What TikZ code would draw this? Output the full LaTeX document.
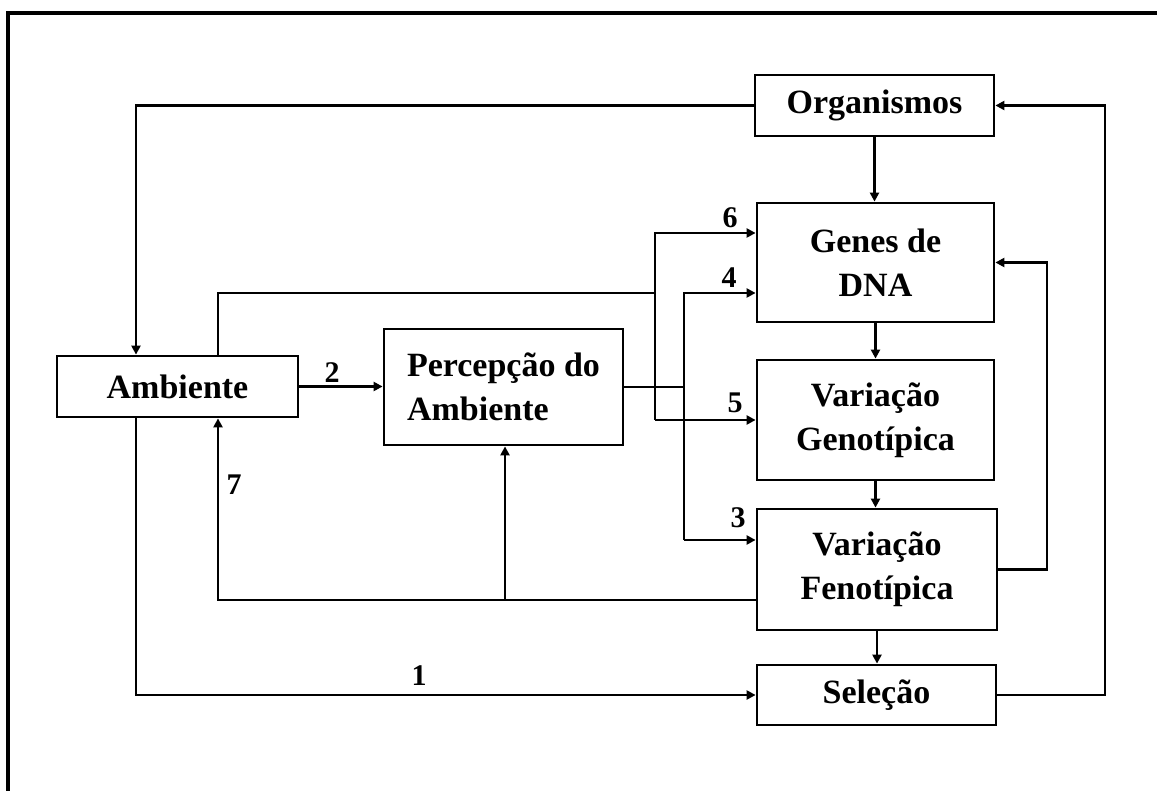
\documentclass[tikz,border=0pt]{standalone}
\usepackage{fontspec}
\setmainfont{Liberation Serif}
\usetikzlibrary{arrows.meta}
\begin{document}
\begin{tikzpicture}[x=1pt,y=-1pt,
  box/.style={draw,line width=2.8pt,inner sep=0pt,
    font=\bfseries\fontsize{34}{44}\selectfont,align=center},
  conn/.style={line width=2.4pt},
  arr/.style={conn,-{Triangle[length=9pt,width=9pt]}},
  num/.style={font=\bfseries\fontsize{30}{30}\selectfont,inner sep=0pt}]
\useasboundingbox (0,0) rectangle (1157,791);

% page frame (top and left edges only)
\draw[line width=4.5pt] (8,791) -- (8,13) -- (1157,13);

% boxes
\node[box,minimum width=239pt,minimum height=61pt]  (org)   at (874.5,105.5) {Organismos};
\node[box,minimum width=237pt,minimum height=119pt] (genes) at (875.5,262.5) {Genes de\\DNA};
\node[box,minimum width=237pt,minimum height=120pt] (genot) at (875.5,420)   {Variação\\Genotípica};
\node[box,minimum width=240pt,minimum height=121pt] (fenot) at (877,569.5)   {Variação\\Fenotípica};
\node[box,minimum width=239pt,minimum height=60pt]  (sel)   at (876.5,695)   {Seleção};
\node[box,minimum width=241pt,minimum height=61pt]  (amb)   at (177.5,386.5) {Ambiente};
\node[box,minimum width=239pt,minimum height=116pt,align=left] (perc) at (503.5,387) {Percepção do\\Ambiente};

% routing points
\coordinate (xL) at (136,0);
\coordinate (x7) at (218,0);
\coordinate (xP) at (505,0);
\coordinate (xFb) at (1047,0);
\coordinate (xR) at (1105,0);
\coordinate (y7) at (0,600);
\coordinate (j6) at (655,233);
\coordinate (jA) at (655,293);
\coordinate (j5) at (655,420);
\coordinate (k4) at (684,293);
\coordinate (k3) at (684,540);

% main chain
\draw[arr] (org.west) -| (xL |- amb.north);
\draw[arr] (org.south) -- (org.south |- genes.north);
\draw[arr] (genes.south) -- (genes.south |- genot.north);
\draw[arr] (genot.south) -- (genot.south |- fenot.north);
\draw[arr] (fenot.south) -- (fenot.south |- sel.north);
\draw[arr] (sel.east) -| (xR |- org.east) -- (org.east);
\draw[arr] (fenot.east) -| (xFb |- genes.east) -- (genes.east);

% 2: environment to perception
\draw[arr] (amb.east) -- (amb.east -| perc.west);

% 6 and 5: from the environment
\draw[conn] (x7 |- amb.north) |- (jA);
\draw[arr] (j5) |- (j6 -| genes.west);
\draw[arr] (j5) -- (j5 -| genot.west);

% 4 and 3: from the perception
\draw[conn] (perc.east) -- (perc.east -| k4);
\draw[arr] (k3) |- (k4 -| genes.west);
\draw[arr] (k3) -- (k3 -| fenot.west);

% 7: phenotype back to environment and perception
\draw[arr] (fenot.west |- y7) -| (x7 |- amb.south);
\draw[arr] (xP |- y7) -- (xP |- perc.south);

% 1: environment to selection
\draw[arr] (xL |- amb.south) |- (sel.west);

% labels
\node[num] (n1) at (419,676) {1};
\node[num] (n2) at (332,373) {2};
\node[num] (n3) at (738,518) {3};
\node[num] (n4) at (729,278) {4};
\node[num] (n5) at (735,403) {5};
\node[num] (n6) at (730,218) {6};
\node[num] (n7) at (234,485) {7};
\end{tikzpicture}
\end{document}
